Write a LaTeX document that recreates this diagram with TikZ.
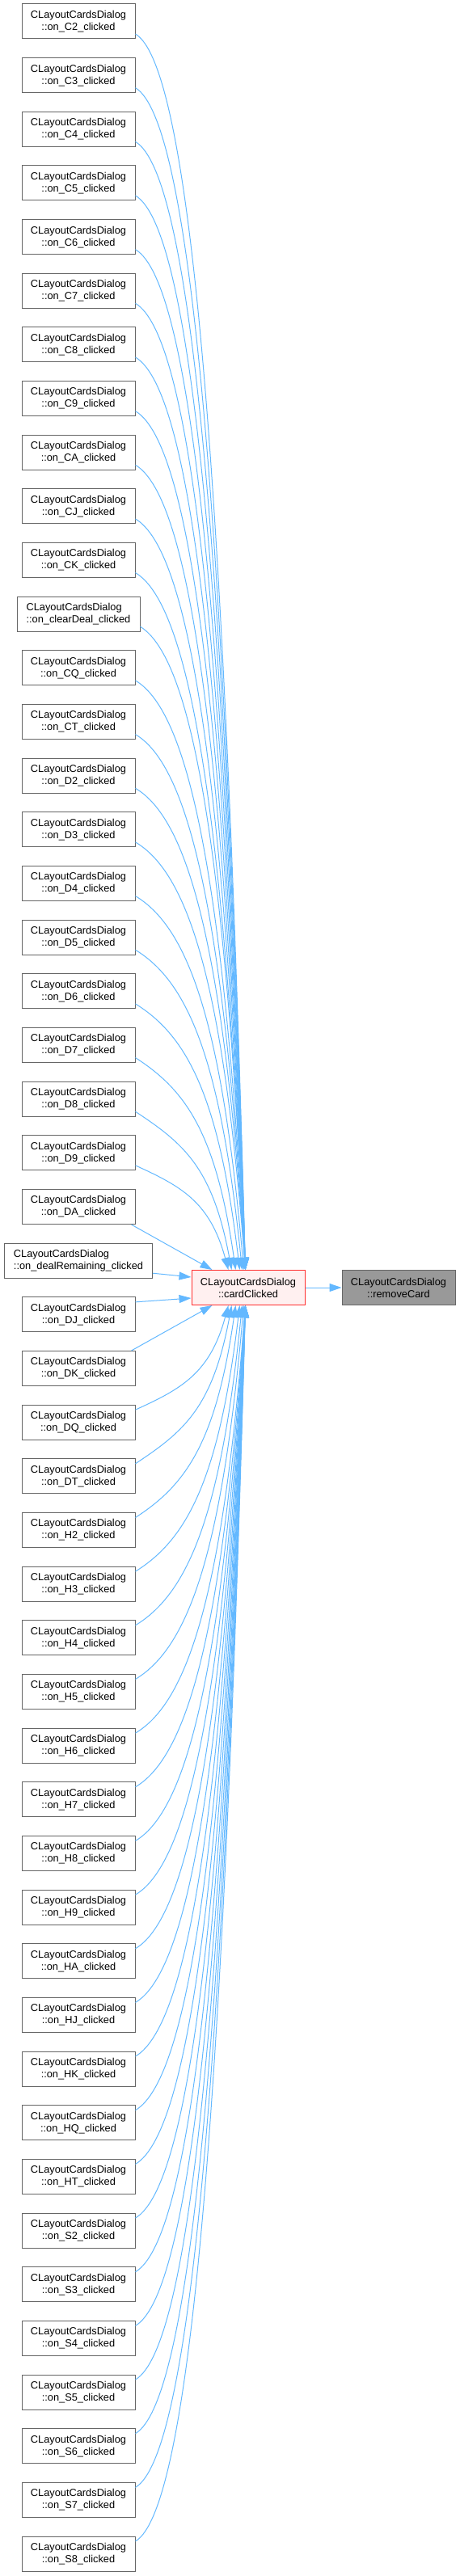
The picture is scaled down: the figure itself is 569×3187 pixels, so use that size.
\documentclass[tikz,border=0pt]{standalone}
\usepackage{fontspec}
\setmainfont{Liberation Sans}
\usetikzlibrary{arrows.meta,calc}
\definecolor{edgeblue}{HTML}{63B8FF}
\definecolor{boxgray}{HTML}{666666}
\definecolor{ccfill}{HTML}{FFF0F0}
\definecolor{ccborder}{HTML}{FF3030}
\definecolor{rcfill}{HTML}{999999}
\tikzset{
 fn/.style={draw=boxgray, line width=1pt, fill=white, minimum height=43pt, inner sep=0pt, font=\fontsize{12.8}{15}\selectfont, align=center},
 edge/.style={draw=edgeblue, line width=1pt, -{Triangle[length=15pt,width=10pt]}},
}
\begin{document}
\begin{tikzpicture}
\useasboundingbox (0,0) rectangle (569pt,-3187pt);
\node[fn, fill=ccfill, draw=ccborder, minimum width=140pt] (cc) at (307pt,-1593pt) {CLayoutCardsDialog\\::cardClicked};
\node[fn, fill=rcfill, minimum width=140pt] (rc) at (493pt,-1593pt) {CLayoutCardsDialog\\::removeCard};
\draw[edge] (cc) -- (rc);
\foreach \lab [count=\i from 0] in {C2,C3,C4,C5,C6,C7,C8,C9,CA,CJ,CK,clearDeal,CQ,CT,D2,D3,D4,D5,D6,D7,D8,D9,DA,dealRemaining,DJ,DK,DQ,DT,H2,H3,H4,H5,H6,H7,H8,H9,HA,HJ,HK,HQ,HT,S2,S3,S4,S5,S6,S7,S8}{
  \pgfmathsetmacro\yc{5+\i*66.66+21.5}
  \def\w{140}\def\al{center}
  \ifnum\i=11 \def\w{152}\def\al{left}\fi
  \ifnum\i=23 \def\w{183}\def\al{left}\fi
  \node[fn, minimum width=\w pt, align=\al] (n\i) at (97pt,-\yc pt) {CLayoutCardsDialog\\::on\_\lab\_clicked};
  \ifnum\i=23
    \draw[edge] ([yshift=-15.5pt]n\i.east) -- ([yshift=13pt]cc.west);
  \else\ifnum\i=24
    \draw[edge] ([yshift=15.5pt]n\i.east) -- ([yshift=-13pt]cc.west);
  \else\ifnum\i=22
    \draw[edge] ([xshift=-5pt]n\i.south east) -- ([xshift=26pt]cc.north west);
  \else\ifnum\i=25
    \draw[edge] ([xshift=-5pt]n\i.north east) -- ([xshift=26pt]cc.south west);
  \else
    \ifnum\i<24 \def\m{\i}\else \pgfmathtruncatemacro\m{47-\i}\fi
    \pgfmathsetmacro\sx{97+\w/2}
    \pgfmathsetmacro\yo{5+\m*66.66+37}
    \def\tx{304}
    \ifnum\m=21 \def\tx{283}\fi
    \ifnum\m=20 \def\tx{287}\fi
    \ifnum\m=19 \def\tx{292}\fi
    \ifnum\m=18 \def\tx{297}\fi
    \ifnum\m=17 \def\tx{300}\fi
    \ifnum\m=16 \def\tx{302}\fi
    \pgfmathsetmacro\D{1572-\yo}
    \pgfmathsetmacro\dx{\tx-\sx}
    \pgfmathsetmacro\pax{\sx+0.5*\dx}
    \pgfmathsetmacro\pay{\yo+min(0.2*\D,40)}
    \pgfmathsetmacro\pbx{\tx-0.2*\dx}
    \pgfmathsetmacro\pby{\yo+0.35*\D}
    \pgfmathsetmacro\txo{\tx-237}
    \ifnum\i<24
      \draw[edge] ([yshift=-15.5pt]n\i.east) .. controls (\pax pt,-\pay pt) and (\pbx pt,-\pby pt) .. ([xshift=\txo pt]cc.north west);
    \else
      \pgfmathsetmacro\pay{3186-\pay}
      \pgfmathsetmacro\pby{3186-\pby}
      \draw[edge] ([yshift=15.5pt]n\i.east) .. controls (\pax pt,-\pay pt) and (\pbx pt,-\pby pt) .. ([xshift=\txo pt]cc.south west);
    \fi
  \fi\fi\fi\fi
}
\end{tikzpicture}
\end{document}
